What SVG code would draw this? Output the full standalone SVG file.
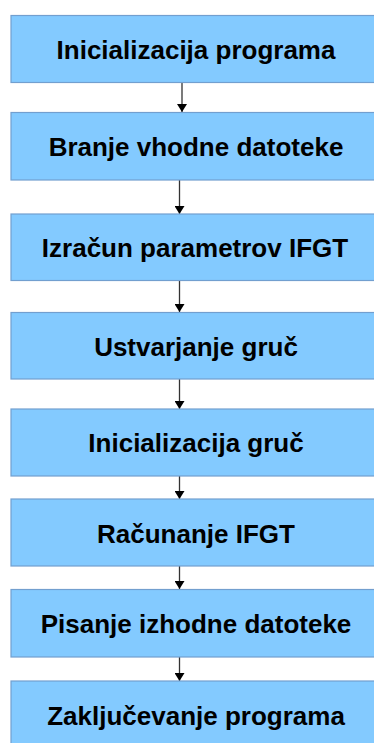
<svg xmlns="http://www.w3.org/2000/svg" width="374" height="743" viewBox="0 0 374 743">
<style>
.box{fill:#83caff;stroke:#729fcf;stroke-width:1.2}
.lbl{font-family:"Liberation Sans",Arial,sans-serif;font-weight:bold;font-size:26px;fill:#000;text-anchor:middle}
.con{stroke:#333;stroke-width:1.3;fill:none}
</style>
<defs>
<marker id="ah" markerWidth="8" markerHeight="10" refX="8" refY="5" orient="auto" markerUnits="userSpaceOnUse"><path d="M0,0 L8,5 L0,10 z" fill="#000"/></marker>
</defs>
<rect width="374" height="743" fill="#fff"/>
<g id="connectors">
<line class="con" x1="182" y1="82" x2="182" y2="112" marker-end="url(#ah)"/>
<line class="con" x1="179.5" y1="180" x2="179.5" y2="214" marker-end="url(#ah)"/>
<line class="con" x1="179.5" y1="280" x2="179.5" y2="312" marker-end="url(#ah)"/>
<line class="con" x1="179.5" y1="379" x2="179.5" y2="409" marker-end="url(#ah)"/>
<line class="con" x1="179.5" y1="476" x2="179.5" y2="499" marker-end="url(#ah)"/>
<line class="con" x1="179.5" y1="566" x2="179.5" y2="589" marker-end="url(#ah)"/>
<line class="con" x1="179.5" y1="657" x2="179.5" y2="681" marker-end="url(#ah)"/>
</g>
<g id="n1"><rect class="box" x="11" y="15.5" width="380" height="67"/><text class="lbl" x="196" y="59">Inicializacija programa</text></g>
<g id="n2"><rect class="box" x="11" y="112.5" width="380" height="67.5"/><text class="lbl" x="196" y="156">Branje vhodne datoteke</text></g>
<g id="n3"><rect class="box" x="11" y="214" width="380" height="66.5"/><text class="lbl" x="195" y="257">Izračun parametrov IFGT</text></g>
<g id="n4"><rect class="box" x="11" y="312.5" width="380" height="66.5"/><text class="lbl" x="196" y="356">Ustvarjanje gruč</text></g>
<g id="n5"><rect class="box" x="11" y="409" width="380" height="67"/><text class="lbl" x="196" y="452">Inicializacija gruč</text></g>
<g id="n6"><rect class="box" x="11" y="499" width="380" height="67"/><text class="lbl" x="196" y="543">Računanje IFGT</text></g>
<g id="n7"><rect class="box" x="11" y="589.5" width="380" height="67.5"/><text class="lbl" x="196" y="633">Pisanje izhodne datoteke</text></g>
<g id="n8"><rect class="box" x="11" y="681" width="380" height="80"/><text class="lbl" x="196" y="725">Zaključevanje programa</text></g>
</svg>
